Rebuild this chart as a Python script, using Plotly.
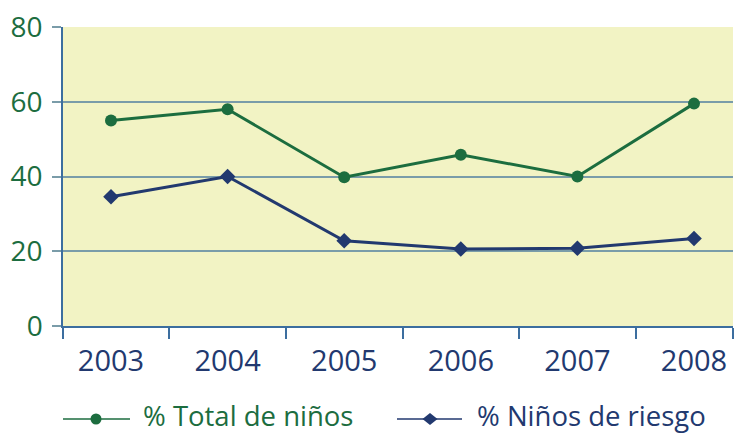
import plotly.graph_objects as go

years = [2003, 2004, 2005, 2006, 2007, 2008]
total_ninos = [55, 58, 39.8, 45.8, 40, 59.5]
ninos_riesgo = [34.6, 40, 22.8, 20.6, 20.8, 23.4]
series_names = ["% Total de niños", "% Niños de riesgo"]
y_ticks = [0, 20, 40, 60, 80]

GREEN = "#1c6d3f"
NAVY = "#22396f"
BG = "#f2f3c4"
GRID = "#7a9ca9"
AXIS = "#3c6e9f"
FONT = "Open Sans"

W, H = 735, 433
ML, MR, MT, MB = 63, 2, 27, 107
PW, PH = W - ML - MR, H - MT - MB

x0 = years[0] - 48 / 116.6
x1 = years[-1] + 39 / 116.6
minor_vals = [x0] + [y + 0.5 for y in years[:-1]] + [x1]

fig = go.Figure()
fig.add_trace(go.Scatter(
    x=years, y=total_ninos, mode="lines+markers", name=series_names[0],
    line=dict(color=GREEN, width=3), marker=dict(symbol="circle", size=12, color=GREEN),
    showlegend=False, cliponaxis=False))
fig.add_trace(go.Scatter(
    x=years, y=ninos_riesgo, mode="lines+markers", name=series_names[1],
    line=dict(color=NAVY, width=3), marker=dict(symbol="diamond", size=12, color=NAVY),
    showlegend=False, cliponaxis=False))


# custom legend drawn in paper space (pixel helpers)
def px(xp):
    return (xp - ML) / PW


def py(yp):
    return (H - MB - yp) / PH


leg_y = 419
txt_y = 415
items = [
    (63, 130, 96, "circle", GREEN, 142, series_names[0]),
    (397, 462, 430, "diamond", NAVY, 476, series_names[1]),
]
for lx0, lx1, mx, sym, col, tx, txt in items:
    fig.add_shape(type="line", xref="paper", yref="paper",
                  x0=px(lx0), x1=px(lx1), y0=py(leg_y), y1=py(leg_y),
                  line=dict(color=col, width=1.5))
    if sym == "circle":
        r = 5.5
        fig.add_shape(type="circle", xref="paper", yref="paper",
                      x0=px(mx - r), x1=px(mx + r), y0=py(leg_y + r), y1=py(leg_y - r),
                      fillcolor=col, line=dict(color=col, width=0))
    else:
        r = 7.5
        path = (f"M {px(mx - r)} {py(leg_y)} L {px(mx)} {py(leg_y - r * 0.8)} "
                f"L {px(mx + r)} {py(leg_y)} L {px(mx)} {py(leg_y + r * 0.8)} Z")
        fig.add_shape(type="path", xref="paper", yref="paper", path=path,
                      fillcolor=col, line=dict(color=col, width=0))
    fig.add_annotation(xref="paper", yref="paper", x=px(tx), y=py(txt_y),
                       xanchor="left", yanchor="middle", text=txt, showarrow=False,
                       borderpad=0, font=dict(family=FONT, size=27.5, color=col))

fig.update_layout(
    width=W, height=H,
    margin=dict(l=ML, r=MR, t=MT, b=MB, pad=0),
    paper_bgcolor="white", plot_bgcolor=BG,
    font=dict(family=FONT),
    showlegend=False,
    xaxis=dict(
        range=[x0, x1], tickmode="array", tickvals=years, ticktext=[str(y) for y in years],
        ticks="", showgrid=False, zeroline=False,
        showline=True, linecolor=AXIS, linewidth=1.5,
        tickfont=dict(family=FONT, size=29, color=NAVY),
        ticklabelstandoff=8,
        minor=dict(tickmode="array", tickvals=minor_vals, ticks="outside", ticklen=11,
                   tickcolor=AXIS, tickwidth=1.5, showgrid=False),
    ),
    yaxis=dict(
        range=[0, 80], tickmode="array", tickvals=y_ticks,
        ticks="outside", ticklen=9, tickcolor=GRID, tickwidth=1.5,
        showgrid=True, gridcolor=GRID, gridwidth=1.8, zeroline=False,
        showline=True, linecolor=AXIS, linewidth=1.5,
        tickfont=dict(family=FONT, size=28, color=GREEN),
        ticklabelstandoff=4,
    ),
)

fig.write_html("out.html", config={"displayModeBar": False},
               post_script="document.body.style.margin='0';")
